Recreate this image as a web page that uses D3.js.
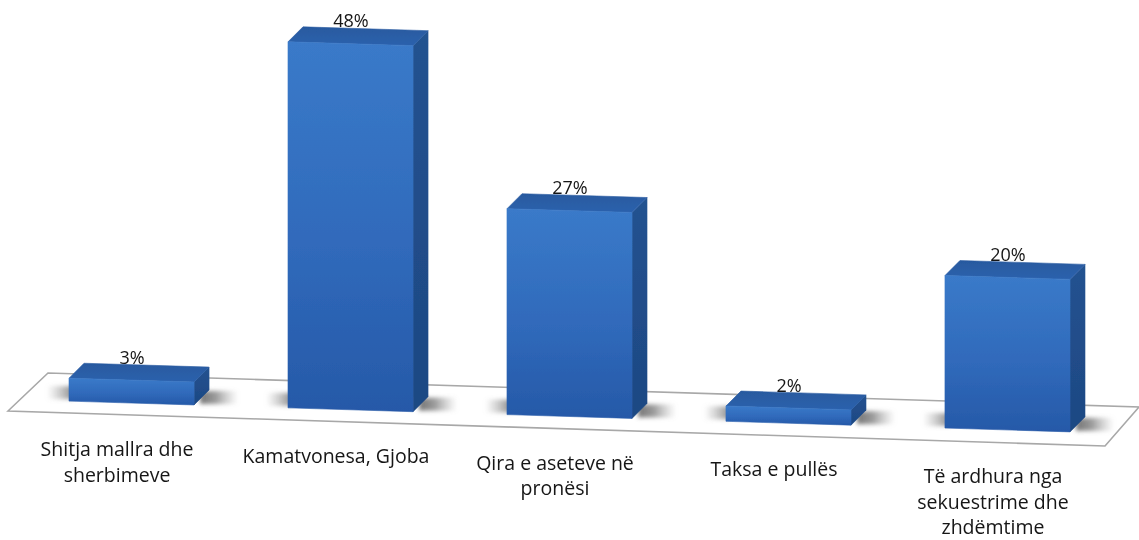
<!DOCTYPE html>
<html>
<head>
<meta charset="utf-8">
<script src="https://cdn.jsdelivr.net/npm/d3@7/dist/d3.min.js"></script>
<style>
  html, body { margin: 0; padding: 0; background: #fff; }
  text { font-family: "Open Sans", Lato, sans-serif; fill: #151515; }
</style>
</head>
<body>
<script>
const categories = ["Shitja mallra dhe sherbimeve", "Kamatvonesa, Gjoba", "Qira e aseteve në pronësi", "Taksa e pullës", "Të ardhura nga sekuestrime dhe zhdëmtime"];
const values = [3, 48, 27, 2, 20];
const categoryLines = [["Shitja mallra dhe", "sherbimeve"], ["Kamatvonesa, Gjoba"], ["Qira e aseteve në", "pronësi"], ["Taksa e pullës"], ["Të ardhura nga", "sekuestrime dhe", "zhdëmtime"]];

const width = 1139, height = 540;
const depth = {x: 15, y: -15};

const svg = d3.select("body").append("svg").attr("width", width).attr("height", height).style("display", "block");
const defs = svg.append("defs");

function linearGrad(id, x2, y2, stops) {
  const g = defs.append("linearGradient").attr("id", id)
    .attr("x1", 0).attr("y1", 0).attr("x2", x2).attr("y2", y2);
  stops.forEach(s => g.append("stop").attr("offset", s[0]).attr("stop-color", s[1]).attr("stop-opacity", s[2] === undefined ? 1 : s[2]));
}
linearGrad("front", 0, 1, [[0, "#3a7ac9"], [0.55, "#306abb"], [1, "#2659a8"]]);
linearGrad("top", 0, 1, [[0, "#28599f"], [1, "#2c62ad"]]);
linearGrad("side", 0, 1, [[0, "#245290"], [1, "#1d4883"]]);
linearGrad("shadeL", 1, 0, [[0, "#999", 0], [1, "#777", 0.85]]);
linearGrad("shadeR", 1, 0, [[0, "#666", 0.9], [0.4, "#777", 0.75], [1, "#999", 0]]);

defs.append("filter").attr("id", "soft").append("feGaussianBlur").attr("stdDeviation", 0.6);
defs.append("filter").attr("id", "softer").attr("x", "-30%").attr("y", "-60%").attr("width", "160%").attr("height", "220%")
  .append("feGaussianBlur").attr("stdDeviation", 2.2);
defs.append("filter").attr("id", "textSoft").append("feGaussianBlur").attr("stdDeviation", 0.25);

// x position of the bars, height of a value, and the tilt of the floor
const xScale = d3.scaleBand().domain(categories).range([69, 1070]).paddingInner(0.429);
const hScale = d3.scaleLinear().domain([0, 48]).range([0, 366]);
const floorY = d3.scaleLinear().domain([0, width]).range([399, 434]);

const line = d3.line();

// floor
svg.append("path")
  .attr("d", line([[8, 411], [48, 373], [1139, 407], [1105, 446]]) + "Z")
  .attr("fill", "#fff").attr("stroke", "#a8a8a8").attr("stroke-width", 1.6)
  .attr("filter", "url(#soft)");

const bars = svg.selectAll("g.bar").data(categories).enter().append("g").attr("class", "bar");

bars.each(function (c, i) {
  const g = d3.select(this);
  const x0 = xScale(c), x1 = x0 + xScale.bandwidth();
  const b0 = floorY(x0), b1 = floorY(x1);
  const h = hScale(values[i]);
  const t0 = b0 - h, t1 = b1 - h;
  const dx = depth.x, dy = depth.y;

  // shadows on the floor
  g.append("rect").attr("x", x0 - 22).attr("y", b0 - 15).attr("width", 26).attr("height", 13)
    .attr("fill", "url(#shadeL)").attr("filter", "url(#softer)");
  g.append("rect").attr("x", x1 + 6).attr("y", b1 - 14).attr("width", 38).attr("height", 13)
    .attr("fill", "url(#shadeR)").attr("filter", "url(#softer)");

  const box = g.append("g").attr("filter", "url(#soft)");
  const face = (pts, fill) => box.append("path").attr("d", line(pts) + "Z").attr("fill", fill)
    .attr("stroke", fill).attr("stroke-width", 0.6).attr("stroke-linejoin", "round");
  face([[x1, t1], [x1 + dx, t1 + dy], [x1 + dx, b1 + dy], [x1, b1]], "url(#side)");
  face([[x0, t0], [x0 + dx, t0 + dy], [x1 + dx, t1 + dy], [x1, t1]], "url(#top)");
  face([[x0, t0], [x1, t1], [x1, b1], [x0, b0]], "url(#front)");

  // value label
  g.append("text").attr("x", (x0 + x1) / 2 + 0.5).attr("y", t0 - 14.5)
    .attr("text-anchor", "middle").attr("font-size", 18)
    .attr("filter", "url(#textSoft)")
    .text(values[i] + "%");

  // category label
  const lab = g.append("text").attr("text-anchor", "middle").attr("font-size", 19.5).attr("filter", "url(#textSoft)");
  categoryLines[i].forEach((t, k) => {
    lab.append("tspan").attr("x", (x0 + x1) / 2 - 14.5).attr("y", b0 + 55 + k * 25.5).text(t);
  });
});
</script>
</body>
</html>
